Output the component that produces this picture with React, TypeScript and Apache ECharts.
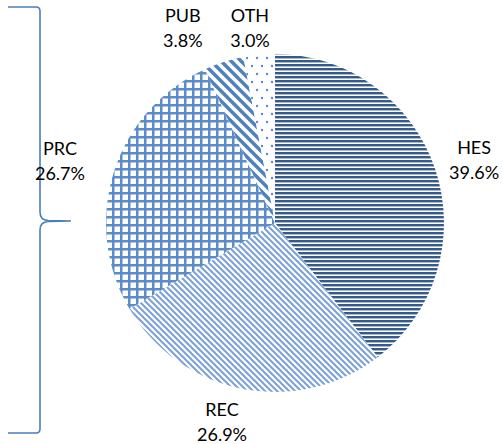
import React, { useEffect, useRef } from 'react';
import * as echarts from 'echarts';

const CATEGORIES = ['HES', 'REC', 'PRC', 'PUB', 'OTH'];
const VALUES = [39.6, 26.9, 26.7, 3.8, 3.0];

// layout / style constants
const CX = 275;
const CY = 223;
const R = 169;
const LABEL_RADIUS = [209, 205, 224, 216, 197];
const LABEL_ANGLE_NUDGE = [1, 4, -1.2, -7.6, -1.9];

const BRACE_D =
  'M8,7 L36,7 Q40,7 40,11 L40,212 Q40,220 48,220.5 L71,221 L48,221.5 Q40,222 40,230 L40,429 Q40,433 36,433 L8,433';

function tile(w: number, h: number, draw: (ctx: CanvasRenderingContext2D) => void) {
  const c = document.createElement('canvas');
  c.width = w;
  c.height = h;
  const ctx = c.getContext('2d') as CanvasRenderingContext2D;
  ctx.fillStyle = '#ffffff';
  ctx.fillRect(0, 0, w, h);
  draw(ctx);
  return c;
}

function diag(ctx: CanvasRenderingContext2D, s: number, lw: number, color: string) {
  ctx.strokeStyle = color;
  ctx.lineWidth = lw;
  for (const k of [-s, 0, s]) {
    ctx.beginPath();
    ctx.moveTo(k - 1, -1);
    ctx.lineTo(k + s + 1, s + 1);
    ctx.stroke();
  }
}

function makePatterns() {
  const hes = tile(4, 4, (ctx) => {
    ctx.fillStyle = '#365b8a';
    ctx.fillRect(0, 0, 4, 2);
    ctx.fillStyle = '#a7b9d2';
    ctx.fillRect(0, 2, 4, 1);
  });
  const rec = tile(6, 6, (ctx) => diag(ctx, 6, 2, '#7aa1d6'));
  const prc = tile(8, 8, (ctx) => {
    ctx.fillStyle = '#5b8bc9';
    ctx.fillRect(0, 0, 8, 2.5);
    ctx.fillRect(0, 0, 2.5, 8);
  });
  const pub = tile(10, 10, (ctx) => diag(ctx, 10, 3.5, '#4f81bd'));
  const oth = tile(10, 16, (ctx) => {
    ctx.fillStyle = '#5b8bc9';
    ctx.beginPath();
    ctx.arc(2, 2, 1.2, 0, Math.PI * 2);
    ctx.fill();
    ctx.beginPath();
    ctx.arc(7, 10, 1.2, 0, Math.PI * 2);
    ctx.fill();
  });
  return [hes, rec, prc, pub, oth];
}

export default function App() {
  const ref = useRef<HTMLDivElement>(null);

  useEffect(() => {
    if (!ref.current) return;
    try {
      echarts.graphic.registerShape('brace', echarts.graphic.extendPath(BRACE_D, {}) as any);
    } catch (e) {
      /* already registered */
    }
    const chart = echarts.init(ref.current, undefined, { renderer: 'svg' });
    const patterns = makePatterns();
    const total = VALUES.reduce((a, b) => a + b, 0);
    const mids: number[] = [];
    let cum = 0;
    VALUES.forEach((v) => {
      mids.push(((cum + v / 2) / total) * 360);
      cum += v;
    });

    chart.setOption({
      animation: false,
      backgroundColor: '#ffffff',
      graphic: [
        {
          type: 'brace',
          silent: true,
          shape: {},
          style: { stroke: '#4a7ebb', fill: 'none', lineWidth: 1.6 },
        },
      ],
      series: [
        {
          type: 'pie',
          center: [CX, CY],
          radius: R,
          startAngle: 90,
          clockwise: true,
          avoidLabelOverlap: false,
          itemStyle: { borderWidth: 0 },
          emphasis: { disabled: true },
          labelLine: { show: false },
          label: {
            show: true,
            position: 'outside',
            color: '#000000',
            fontFamily: 'Lato',
            fontSize: 18,
            lineHeight: 25,
            formatter: (p: any) => `${p.name}\n${Number(p.value).toFixed(1)}%`,
          },
          labelLayout: (params: any) => {
            const i = params.dataIndex;
            const a = ((mids[i] + LABEL_ANGLE_NUDGE[i]) * Math.PI) / 180;
            const r = LABEL_RADIUS[i];
            return {
              x: CX + r * Math.sin(a),
              y: CY - r * Math.cos(a),
              align: 'center',
              verticalAlign: 'middle',
            };
          },
          data: CATEGORIES.map((name, i) => ({
            name,
            value: VALUES[i],
            itemStyle: { color: { image: patterns[i], repeat: 'repeat' } },
          })),
        },
      ],
    });
    return () => chart.dispose();
  }, []);

  return (
    <div
      ref={ref}
      style={{ position: 'absolute', left: 0, top: 0, width: 503, height: 444 }}
    />
  );
}
